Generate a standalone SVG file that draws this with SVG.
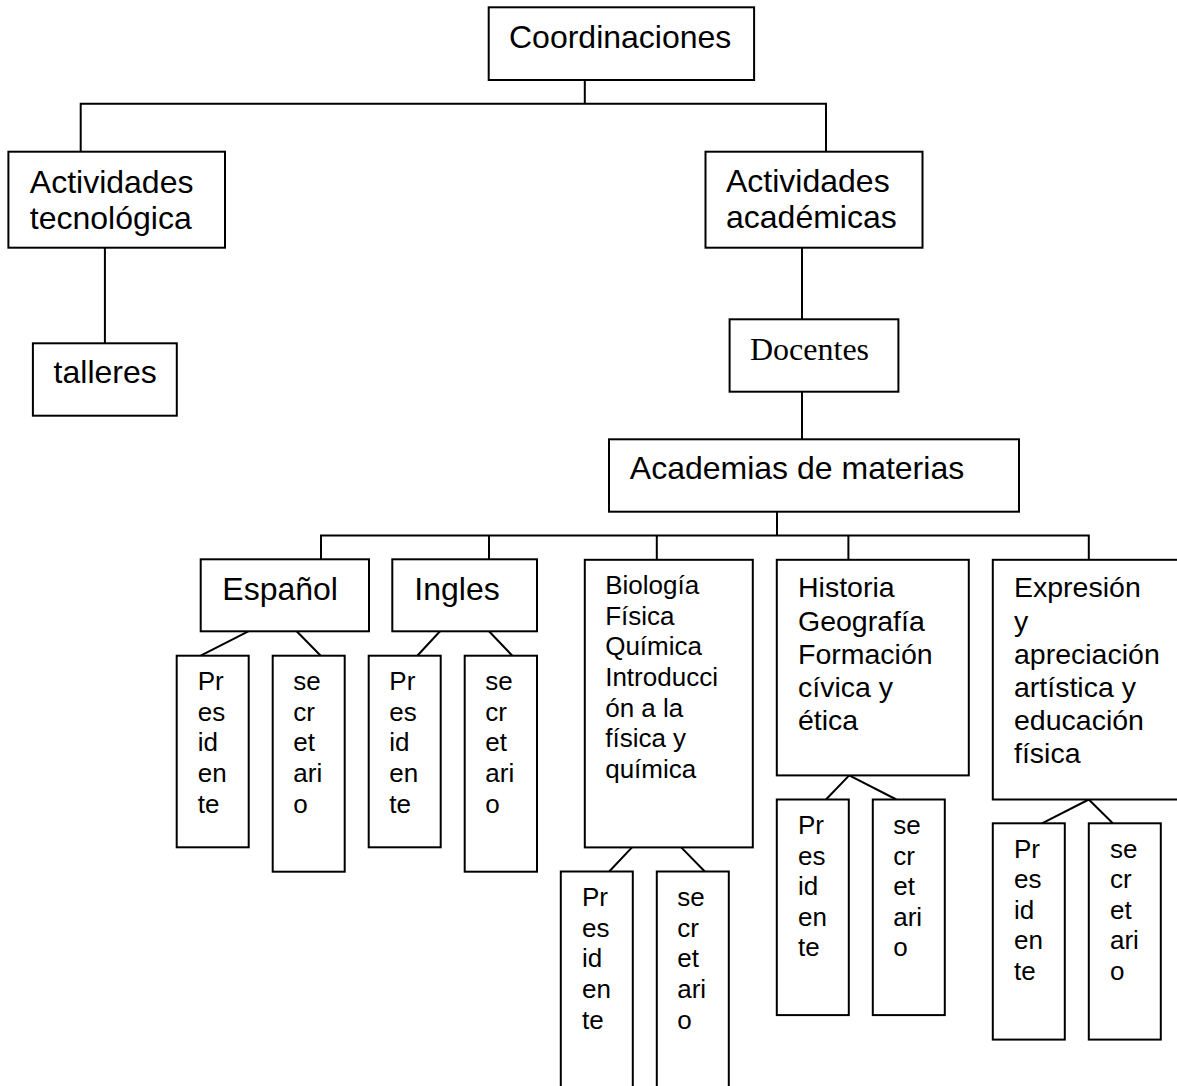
<svg xmlns="http://www.w3.org/2000/svg" width="1177" height="1086" viewBox="0 0 1177 1086">
<style>
rect{fill:#fff;stroke:#000;stroke-width:2}
.c{fill:none;stroke:#000;stroke-width:2}
text{font-family:"Liberation Sans",Arial,sans-serif;fill:#000}
.b{font-size:32px}
.m{font-size:28.5px}
.s{font-size:26px}
.t{font-family:"Liberation Serif","Times New Roman",serif;font-size:32px}
</style>
<rect x="0" y="0" width="1177" height="1086" style="stroke:none"/>
<g id="connectors" class="c">
<path d="M584.8,80V103.7M80.7,151.7V103.7H826V151.7"/>
<path d="M104.9,247.7V343.3"/>
<path d="M802,247.7V319.3M802,391.7V439.3"/>
<path d="M777,511.7V535.5M321,559.3V535.5H1088.8V559.8M489,535.5V559.3M656.8,535.5V559.8M848.4,535.5V559.8"/>
<path d="M248.3,631.3L200.7,655.7M296.7,631.3L320.7,655.7"/>
<path d="M440,631.3L417.3,655.7M489,631.3L512.3,655.7"/>
<path d="M632,847.4L609.2,871.5M681.2,847.4L704.8,871.5"/>
<path d="M849.2,775.4L826,799.5M849.2,775.4L896.4,799.5"/>
<path d="M1088.8,799.5L1042,823.3M1088.8,799.5L1112.8,823.3"/>
</g>
<g id="coordinaciones"><rect x="488.7" y="7.3" width="265.4" height="72.7"/><text class="b" x="509" y="48">Coordinaciones</text></g>
<g id="act-tecnologica"><rect x="8.4" y="151.7" width="216.6" height="96"/><text class="b" x="29.8" y="192.7">Actividades<tspan x="29.8" dy="36.5">tecnológica</tspan></text></g>
<g id="talleres"><rect x="32.9" y="343.3" width="143.9" height="72.4"/><text class="b" x="53.6" y="383.3">talleres</text></g>
<g id="act-academicas"><rect x="705.5" y="151.7" width="217" height="96"/><text class="b" x="726" y="191.7">Actividades<tspan x="726" dy="36.5">académicas</tspan></text></g>
<g id="docentes"><rect x="729.6" y="319.3" width="168.8" height="72.4"/><text class="t" x="750" y="360">Docentes</text></g>
<g id="academias"><rect x="609" y="439.3" width="410" height="72.4"/><text class="b" x="629.8" y="479">Academias de materias</text></g>
<g id="espanol"><rect x="200.7" y="559.3" width="168.3" height="72"/><text class="b" x="222.3" y="600">Español</text></g>
<g id="ingles"><rect x="392.3" y="559.3" width="144.7" height="72"/><text class="b" x="414.3" y="600">Ingles</text></g>
<g id="ciencias"><rect x="584.8" y="559.8" width="168" height="287.6"/><text class="s" x="605.2" y="593.8">Biología<tspan x="605.2" dy="30.7">Física</tspan><tspan x="605.2" dy="30.7">Química</tspan><tspan x="605.2" dy="30.7">Introducci</tspan><tspan x="605.2" dy="30.7">ón a la</tspan><tspan x="605.2" dy="30.7">física y</tspan><tspan x="605.2" dy="30.7">química</tspan></text></g>
<g id="historia"><rect x="776.8" y="559.8" width="192" height="215.6"/><text class="m" x="798" y="597.4">Historia<tspan x="798" dy="33.2">Geografía</tspan><tspan x="798" dy="33.2">Formación</tspan><tspan x="798" dy="33.2">cívica y</tspan><tspan x="798" dy="33.2">ética</tspan></text></g>
<g id="expresion"><rect x="992.8" y="559.8" width="195" height="239.7"/><text class="m" x="1014" y="597.4">Expresión<tspan x="1014" dy="33.2">y</tspan><tspan x="1014" dy="33.2">apreciación</tspan><tspan x="1014" dy="33.2">artística y</tspan><tspan x="1014" dy="33.2">educación</tspan><tspan x="1014" dy="33.2">física</tspan></text></g>
<g id="esp-presidente"><rect x="176.7" y="655.7" width="72" height="191.6"/><text class="s" x="197.7" y="690">Pr<tspan x="197.7" dy="30.7">es</tspan><tspan x="197.7" dy="30.7">id</tspan><tspan x="197.7" dy="30.7">en</tspan><tspan x="197.7" dy="30.7">te</tspan></text></g>
<g id="esp-secretario"><rect x="272.7" y="655.7" width="72" height="216"/><text class="s" x="293.3" y="690">se<tspan x="293.3" dy="30.7">cr</tspan><tspan x="293.3" dy="30.7">et</tspan><tspan x="293.3" dy="30.7">ari</tspan><tspan x="293.3" dy="30.7">o</tspan></text></g>
<g id="ing-presidente"><rect x="368.7" y="655.7" width="72" height="191.6"/><text class="s" x="389.3" y="690">Pr<tspan x="389.3" dy="30.7">es</tspan><tspan x="389.3" dy="30.7">id</tspan><tspan x="389.3" dy="30.7">en</tspan><tspan x="389.3" dy="30.7">te</tspan></text></g>
<g id="ing-secretario"><rect x="464.7" y="655.7" width="72.3" height="216"/><text class="s" x="485.3" y="690">se<tspan x="485.3" dy="30.7">cr</tspan><tspan x="485.3" dy="30.7">et</tspan><tspan x="485.3" dy="30.7">ari</tspan><tspan x="485.3" dy="30.7">o</tspan></text></g>
<g id="cie-presidente"><rect x="560.8" y="871.5" width="72" height="230"/><text class="s" x="582" y="905.9">Pr<tspan x="582" dy="30.7">es</tspan><tspan x="582" dy="30.7">id</tspan><tspan x="582" dy="30.7">en</tspan><tspan x="582" dy="30.7">te</tspan></text></g>
<g id="cie-secretario"><rect x="656.8" y="871.5" width="72" height="230"/><text class="s" x="677.2" y="905.9">se<tspan x="677.2" dy="30.7">cr</tspan><tspan x="677.2" dy="30.7">et</tspan><tspan x="677.2" dy="30.7">ari</tspan><tspan x="677.2" dy="30.7">o</tspan></text></g>
<g id="his-presidente"><rect x="776.8" y="799.5" width="72" height="215.6"/><text class="s" x="798" y="834.3">Pr<tspan x="798" dy="30.4">es</tspan><tspan x="798" dy="30.4">id</tspan><tspan x="798" dy="30.4">en</tspan><tspan x="798" dy="30.4">te</tspan></text></g>
<g id="his-secretario"><rect x="872.8" y="799.5" width="72" height="215.6"/><text class="s" x="893.2" y="834.3">se<tspan x="893.2" dy="30.4">cr</tspan><tspan x="893.2" dy="30.4">et</tspan><tspan x="893.2" dy="30.4">ari</tspan><tspan x="893.2" dy="30.4">o</tspan></text></g>
<g id="exp-presidente"><rect x="992.8" y="823.3" width="72" height="216.3"/><text class="s" x="1014" y="858">Pr<tspan x="1014" dy="30.4">es</tspan><tspan x="1014" dy="30.4">id</tspan><tspan x="1014" dy="30.4">en</tspan><tspan x="1014" dy="30.4">te</tspan></text></g>
<g id="exp-secretario"><rect x="1088.8" y="823.3" width="72" height="216.3"/><text class="s" x="1110" y="858">se<tspan x="1110" dy="30.4">cr</tspan><tspan x="1110" dy="30.4">et</tspan><tspan x="1110" dy="30.4">ari</tspan><tspan x="1110" dy="30.4">o</tspan></text></g>
</svg>
